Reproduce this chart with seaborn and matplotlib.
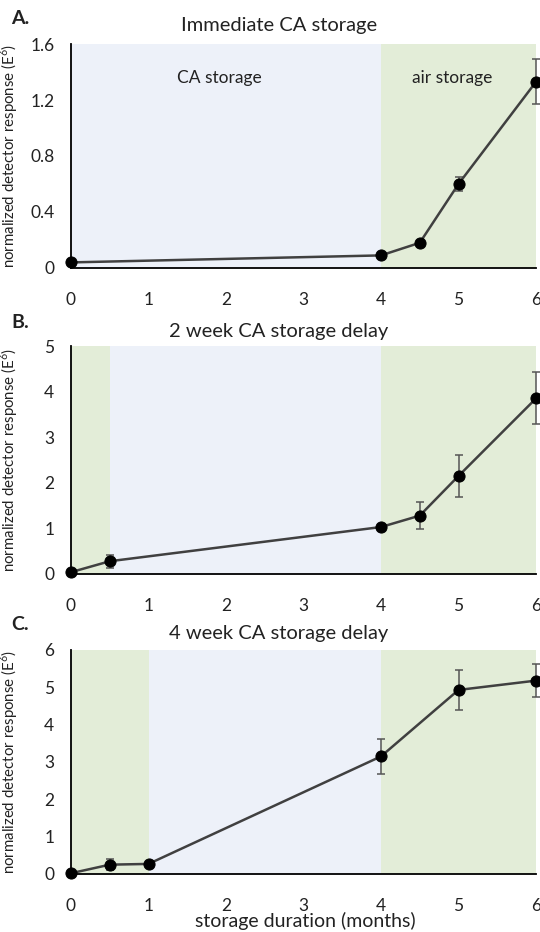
import matplotlib
matplotlib.use("Agg")
import matplotlib.pyplot as plt
import seaborn as sns
import pandas as pd

sns.set_theme(style="white")
plt.rcParams['font.family'] = ['Lato', 'DejaVu Sans']
plt.rcParams['mathtext.fontset'] = 'custom'
plt.rcParams['mathtext.rm'] = 'Lato'
plt.rcParams['mathtext.it'] = 'Lato'

# Panel A: Immediate CA storage
a_x = [0, 4, 4.5, 5, 6]
a_y = [0.04, 0.09, 0.18, 0.60, 1.33]
a_err = [0.01, 0.02, 0.01, 0.05, 0.16]
# Panel B: 2 week CA storage delay
b_x = [0, 0.5, 4, 4.5, 5, 6]
b_y = [0.04, 0.28, 1.03, 1.28, 2.15, 3.85]
b_err = [0.02, 0.14, 0.03, 0.30, 0.47, 0.57]
# Panel C: 4 week CA storage delay
c_x = [0, 0.5, 1, 4, 5, 6]
c_y = [0.02, 0.25, 0.27, 3.15, 4.93, 5.18]
c_err = [0.02, 0.15, 0.03, 0.47, 0.54, 0.44]

titles = ["Immediate CA storage", "2 week CA storage delay", "4 week CA storage delay"]
letters = ["A.", "B.", "C."]
ca_start = [0, 0.5, 1]
ca_end = 4
yticks = [[0, 0.4, 0.8, 1.2, 1.6], [0, 1, 2, 3, 4, 5], [0, 1, 2, 3, 4, 5, 6]]
ytick_labels = [["0", "0.4", "0.8", "1.2", "1.6"], None, None]
xticks = [0, 1, 2, 3, 4, 5, 6]

CA_COLOR = "#EDF1F9"
AIR_COLOR = "#E3EDD8"
TXT = "#222222"

W, H = 540, 932
fig = plt.figure(figsize=(W / 100, H / 100), dpi=100)

boxes = [(44, 268), (346, 574), (650, 874)]
left_px, right_px = 71, 536
title_y = [25, 331, 634]
letter_y = [19, 322, 625]

data = [(a_x, a_y, a_err), (b_x, b_y, b_err), (c_x, c_y, c_err)]

for i, ((top, bot), (xs, ys, es)) in enumerate(zip(boxes, data)):
    ax = fig.add_axes([left_px / W, 1 - bot / H, (right_px - left_px) / W, (bot - top) / H])
    ymax = yticks[i][-1]
    ax.set_xlim(0, 6)
    ax.set_ylim(0, ymax)
    if ca_start[i] > 0:
        ax.axvspan(0, ca_start[i], color=AIR_COLOR, lw=0, zorder=0)
    ax.axvspan(ca_start[i], ca_end, color=CA_COLOR, lw=0, zorder=0)
    ax.axvspan(ca_end, 6, color=AIR_COLOR, lw=0, zorder=0)

    df = pd.DataFrame({"x": xs, "y": ys})
    ax.errorbar(xs, ys, yerr=es, fmt='none', ecolor="#555555", elinewidth=1.1,
                capsize=2.8, capthick=1.1, zorder=2, clip_on=False)
    sns.lineplot(data=df, x="x", y="y", ax=ax, color="#404040", lw=1.8,
                 marker='o', markersize=8, markerfacecolor='black',
                 markeredgecolor='black', zorder=3, clip_on=False)

    ax.set_xticks(xticks)
    ax.set_xticklabels([str(t) for t in xticks], fontsize=12.5)
    ax.set_yticks(yticks[i])
    if ytick_labels[i]:
        ax.set_yticklabels(ytick_labels[i], fontsize=12.5)
    else:
        ax.set_yticklabels([str(t) for t in yticks[i]], fontsize=12.5)
    ax.tick_params(axis='x', length=0, pad=17, colors=TXT)
    ax.tick_params(axis='y', length=0, pad=12, colors=TXT)
    for s in ['top', 'right']:
        ax.spines[s].set_visible(False)
    for s in ['left', 'bottom']:
        ax.spines[s].set_color("black")
        ax.spines[s].set_linewidth(1.3)
    ax.set_ylabel("normalized detector response (E$^{6}$)", fontsize=10.8, color=TXT)
    ax.yaxis.set_label_coords(-0.11, 0.5)
    ax.set_xlabel("")
    ax.grid(False)

    fig.text(279 / W, 1 - title_y[i] / H, titles[i], ha='center', va='center',
             fontsize=14.5, color=TXT)
    fig.text(11 / W, 1 - letter_y[i] / H, letters[i], ha='left', va='center',
             fontsize=14, fontweight='bold', color=TXT)

    if i == 0:
        ax.text(1.91, 1.36, "CA storage", ha='center', va='center', fontsize=12.5, color=TXT)
        ax.text(4.92, 1.36, "air storage", ha='center', va='center', fontsize=12.5, color=TXT)

fig.text(305 / W, 1 - 927 / H, "storage duration (months)", ha='center', va='baseline',
         fontsize=14, color=TXT)

fig.savefig("out.png", dpi=100)
